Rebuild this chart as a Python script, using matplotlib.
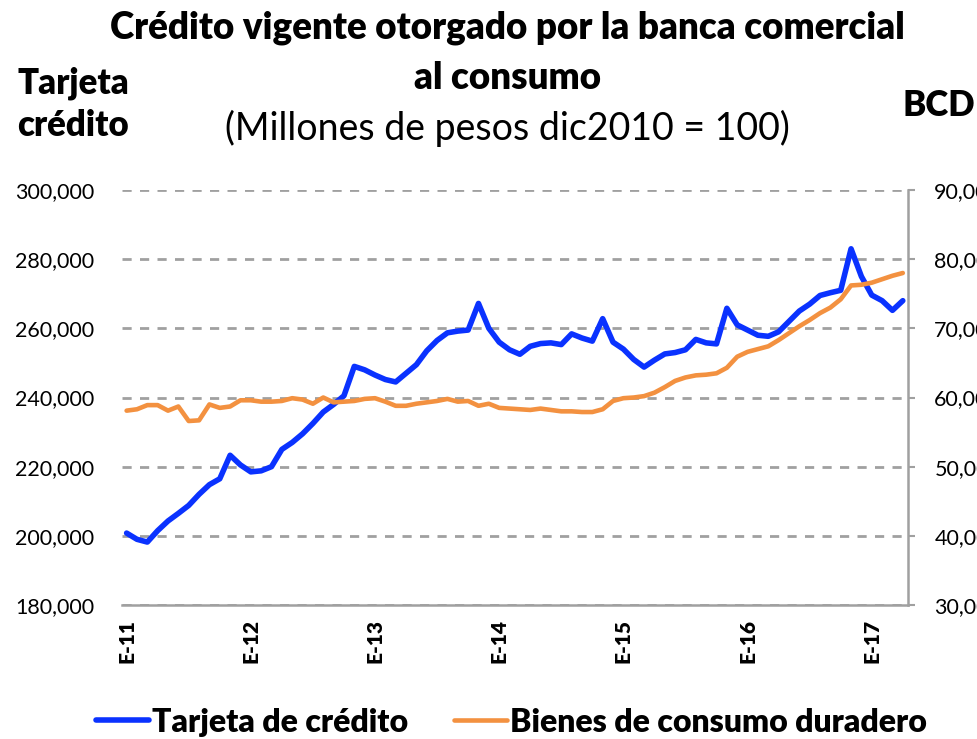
import numpy as np
import matplotlib.pyplot as plt

# monthly data, Jan 2011 .. Apr 2017
tarjeta = [200800, 199000, 198200, 201500, 204300, 206500, 208800, 212000, 214800, 216500,
           223300, 220500, 218500, 218800, 220000, 225000, 227000, 229500, 232500, 235800,
           238000, 240500, 249000, 248000, 246500, 245200, 244500, 247000, 249500, 253500,
           256500, 258700, 259200, 259500, 267200, 260000, 256000, 253800, 252500, 254800,
           255600, 255800, 255300, 258400, 257200, 256300, 262800, 256000, 254000, 251000,
           248800, 250800, 252600, 253000, 253800, 256800, 255800, 255500, 265800, 261000,
           259500, 258000, 257700, 259000, 262000, 265000, 267000, 269500, 270300, 271000,
           283000, 275000, 269600, 268000, 265200, 268000]
bienes = [58100, 58300, 58900, 58900, 58100, 58700, 56600, 56700, 59000, 58500,
          58700, 59600, 59600, 59400, 59400, 59500, 59900, 59700, 59100, 60000,
          59300, 59400, 59500, 59800, 59900, 59400, 58800, 58800, 59100, 59300,
          59500, 59800, 59400, 59500, 58800, 59100, 58500, 58400, 58300, 58200,
          58400, 58200, 58000, 58000, 57900, 57900, 58300, 59500, 59900, 60000,
          60200, 60700, 61500, 62400, 62900, 63200, 63300, 63500, 64300, 65900,
          66600, 67000, 67400, 68300, 69300, 70300, 71200, 72200, 73000, 74200,
          76200, 76300, 76600, 77100, 77600, 78000]
xlabels = ['E-11', 'E-12', 'E-13', 'E-14', 'E-15', 'E-16', 'E-17']

plt.rcParams['font.family'] = ['Lato', 'DejaVu Sans']

fig = plt.figure(figsize=(9.78, 7.39), dpi=100)
ax = fig.add_axes([0.1247, 0.1813, 0.8037, 0.5616])
ax2 = ax.twinx()

x = np.arange(len(tarjeta))
grid_c = '#A0A0A0'

# gridlines
for v in range(180000, 300001, 20000):
    ax.axhline(v, color=grid_c, lw=2.0, ls=(0, (3.3, 3)), zorder=0)

l1, = ax.plot(x, tarjeta, color='#0A32FF', lw=4.0, solid_joinstyle='round', solid_capstyle='round')
l2, = ax2.plot(x, bienes, color='#F39140', lw=3.3, solid_joinstyle='round', solid_capstyle='round')

ax.set_xlim(-0.45, 75.5)
ax.set_ylim(180000, 300000)
ax2.set_ylim(30000, 90000)
ax.set_yticks(range(180000, 300001, 20000))
ax2.set_yticks(range(30000, 90001, 10000))
ax.yaxis.set_major_formatter(plt.FuncFormatter(lambda v, p: f'{int(v):,}'))
ax2.yaxis.set_major_formatter(plt.FuncFormatter(lambda v, p: f'{int(v):,}'))

ax.set_xticks(np.arange(0, 76, 12))
ax.set_xticklabels(xlabels, rotation=90, fontweight='heavy', fontsize=15)
ax.tick_params(axis='x', length=0, pad=10)
ax.tick_params(axis='y', length=0, labelsize=15.5, pad=20)
ax2.tick_params(axis='y', length=5, color=grid_c, width=1.5, labelsize=15.5, pad=14)

for a in (ax, ax2):
    for s in ('top', 'left', 'right', 'bottom'):
        a.spines[s].set_visible(False)
ax2.spines['right'].set_visible(True)
ax2.spines['right'].set_color(grid_c)
ax2.spines['right'].set_linewidth(1.8)
ax2.spines['bottom'].set_visible(True)
ax2.spines['bottom'].set_color(grid_c)
ax2.spines['bottom'].set_linewidth(1.8)

# titles
fig.text(0.519, 0.962, 'Crédito vigente otorgado por la banca comercial', ha='center', va='center',
         fontsize=26.5, fontweight='heavy')
fig.text(0.519, 0.895, 'al consumo', ha='center', va='center', fontsize=26.5, fontweight='heavy')
fig.text(0.519, 0.826, '(Millones de pesos dic2010 = 100)', ha='center', va='center', fontsize=27)
fig.text(0.018, 0.887, 'Tarjeta', ha='left', va='center', fontsize=25, fontweight='heavy')
fig.text(0.018, 0.830, 'crédito', ha='left', va='center', fontsize=25, fontweight='heavy')
fig.text(0.923, 0.857, 'BCD', ha='left', va='center', fontsize=25, fontweight='heavy')

fig.legend([l1, l2], ['Tarjeta de crédito', 'Bienes de consumo duradero'], loc='center',
           bbox_to_anchor=(0.523, 0.023), ncol=2, frameon=False, handlelength=1.66,
           handletextpad=0.08, columnspacing=1.45, prop={'weight': 'heavy', 'size': 23})

fig.savefig('out.png', dpi=100)
